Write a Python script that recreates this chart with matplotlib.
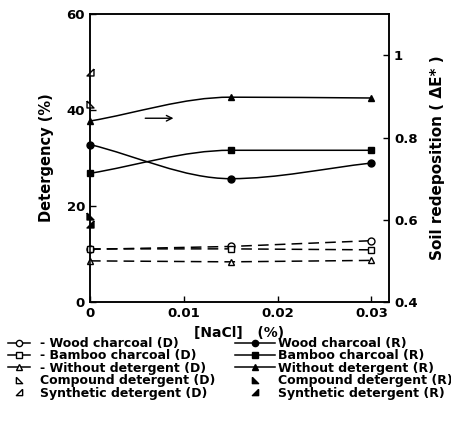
import matplotlib
matplotlib.use("Agg")
import matplotlib.pyplot as plt
from matplotlib.lines import Line2D
from matplotlib.legend_handler import HandlerLine2D
from matplotlib.path import Path
from matplotlib.patches import PathPatch

plt.rcParams['font.family'] = ['DejaVu Sans']
plt.rcParams['font.weight'] = 'bold'

# NaCl concentration (%)
nacl = [0, 0.015, 0.03]

# detergency (%) -> left axis
wood_d = [11.0, 11.6, 12.8]
bamboo_d = [11.1, 11.1, 10.9]
without_d = [8.6, 8.4, 8.7]
compound_d = 41.2   # only at 0
synthetic_d = 48.0

# soil redeposition (dE*) -> right axis
wood_r = [0.783, 0.700, 0.738]
bamboo_r = [0.713, 0.769, 0.769]
without_r = [0.840, 0.898, 0.896]
compound_r = 0.610
synthetic_r = 0.591

# right angle triangle markers
mk_comp = [(-1, 1), (-1, -1), (1, -1), (-1, 1)]
mk_syn = [(1, 1), (1, -1), (-1, -1), (1, 1)]


class EndMarkerHandler(HandlerLine2D):
    # legend line with the marker sitting at the right end
    def get_xdata(self, legend, xdescent, ydescent, width, height, fontsize):
        xdata, xm = super().get_xdata(legend, xdescent, ydescent, width, height, fontsize)
        return xdata, [xdata[-1]]


def smooth_line(a, x, y, **kw):
    # two cubic bezier pieces, flat tangent at the middle point
    d1 = (x[1] - x[0]) / 3
    d2 = (x[2] - x[1]) / 3
    s0 = (y[1] - y[0]) / (x[1] - x[0])
    s2 = (y[2] - y[1]) / (x[2] - x[1])
    verts = [(x[0], y[0]), (x[0] + d1, y[0] + s0 * d1), (x[1] - d1, y[1]), (x[1], y[1]),
             (x[1] + d2, y[1]), (x[2] - d2, y[2] - s2 * d2), (x[2], y[2])]
    codes = [Path.MOVETO] + [Path.CURVE4] * 6
    a.add_patch(PathPatch(Path(verts, codes), fill=False, **kw))


fig = plt.figure(figsize=(4.52, 4.25), dpi=100)
ax = fig.add_axes([0.199, 0.289, 0.662, 0.678])
ax2 = ax.twinx()

dash = (0, (7, 4))
kw_d = dict(color='black', lw=1.1, ms=5, mfc='white', mec='black', mew=1, clip_on=False, zorder=5)
ax.plot(nacl, wood_d, marker='o', ls=dash, **kw_d)
ax.plot(nacl, bamboo_d, marker='s', ls=dash, **kw_d)
ax.plot(nacl, without_d, marker='^', ls=dash, **kw_d)
ax.plot([0], [compound_d], marker=mk_comp, ls='none', **kw_d)
ax.plot([0], [synthetic_d], marker=mk_syn, ls='none', **kw_d)

kw_r = dict(color='black', ms=5, mfc='black', mec='black', ls='none', clip_on=False, zorder=5)
for yy, m in [(wood_r, 'o'), (bamboo_r, 's'), (without_r, '^')]:
    smooth_line(ax2, nacl, yy, edgecolor='black', lw=1.1, zorder=4)
    ax2.plot(nacl, yy, marker=m, **kw_r)
ax2.plot([0], [compound_r], marker=mk_comp, **kw_r)
ax2.plot([0], [synthetic_r], marker=mk_syn, **kw_r)

ax.annotate('', xy=(0.0092, 38.3), xytext=(0.0056, 38.3),
            arrowprops=dict(arrowstyle='->', color='black', lw=1))

ax.set_xlim(0, 0.0319)
ax.set_ylim(0, 60)
ax2.set_ylim(0.4, 1.1)
ax.set_xticks([0, 0.01, 0.02, 0.03])
ax.set_xticklabels(['0', '0.01', '0.02', '0.03'])
ax.set_yticks([0, 20, 40, 60])
ax2.set_yticks([0.4, 0.6, 0.8, 1.0])
ax2.set_yticklabels(['0.4', '0.6', '0.8', '1'])
ax.tick_params(direction='in', length=4, labelsize=9.5, width=1)
ax2.tick_params(direction='in', length=4, labelsize=9.5, width=1)
for a in (ax, ax2):
    for s in a.spines.values():
        s.set_linewidth(1.1)

ax.set_xlabel('[NaCl]   (%)', fontsize=10, fontweight='bold', labelpad=4)
ax.set_ylabel('Detergency (%)', fontsize=10.5, fontweight='bold', labelpad=9)
ax2.set_ylabel('Soil redeposition ( \u0394E* )', fontsize=11, fontweight='bold', labelpad=9)

hd = dict(color='black', lw=1.1, ms=4.5, mfc='white', mec='black')
hr = dict(color='black', lw=1.1, ms=4.5, mfc='black', mec='black')
handles_d = [
    Line2D([], [], marker='o', **hd),
    Line2D([], [], marker='s', **hd),
    Line2D([], [], marker='^', **hd),
    Line2D([], [], marker=mk_comp, ls='none', **hd),
    Line2D([], [], marker=mk_syn, ls='none', **hd),
]
handles_r = [
    Line2D([], [], marker='o', **hr),
    Line2D([], [], marker='s', **hr),
    Line2D([], [], marker='^', **hr),
    Line2D([], [], marker=mk_comp, ls='none', **hr),
    Line2D([], [], marker=mk_syn, ls='none', **hr),
]
labels_d = ['- Wood charcoal (D)', '- Bamboo charcoal (D)', '- Without detergent (D)',
            'Compound detergent (D)', 'Synthetic detergent (D)']
labels_r = ['Wood charcoal (R)', 'Bamboo charcoal (R)', 'Without detergent (R)',
            'Compound detergent (R)', 'Synthetic detergent (R)']
hmap = {h: EndMarkerHandler() for h in handles_d[:3]}
fig.legend(handles_d, labels_d, loc='upper left', bbox_to_anchor=(0.018, 0.207),
           frameon=False, fontsize=9, handlelength=1.75, handletextpad=0.8,
           labelspacing=-0.05, borderaxespad=0, borderpad=0, handler_map=hmap, numpoints=1)
fig.legend(handles_r, labels_r, loc='upper left', bbox_to_anchor=(0.52, 0.207),
           frameon=False, fontsize=9, handlelength=3.2, handletextpad=0.25,
           labelspacing=-0.05, borderaxespad=0, borderpad=0, numpoints=1)

fig.savefig('out.png', dpi=100)
